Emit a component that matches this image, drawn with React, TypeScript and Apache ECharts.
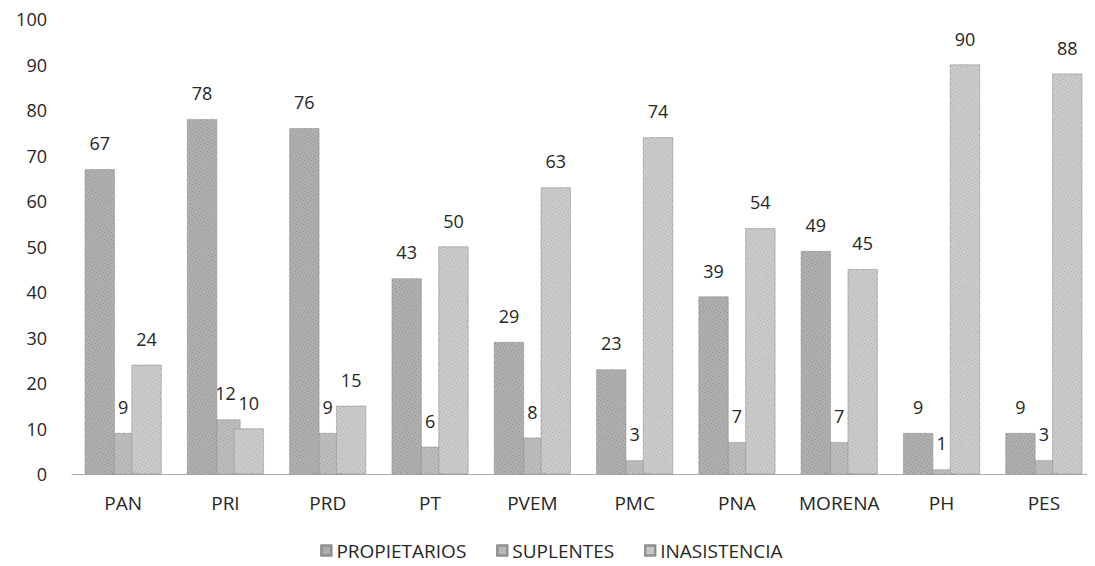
import React, { useEffect, useRef } from "react";
import * as echarts from "echarts";

const categories = ["PAN", "PRI", "PRD", "PT", "PVEM", "PMC", "PNA", "MORENA", "PH", "PES"];
const propietarios = [67, 78, 76, 43, 29, 23, 39, 49, 9, 9];
const suplentes = [9, 12, 9, 6, 8, 3, 7, 7, 1, 3];
const inasistencia = [24, 10, 15, 50, 63, 74, 54, 45, 90, 88];
const seriesNames = ["PROPIETARIOS", "SUPLENTES", "INASISTENCIA"];

const FONT = "Open Sans";
const TEXT = "#262626";

export default function App() {
  const ref = useRef<HTMLDivElement>(null);
  useEffect(() => {
    if (!ref.current) return;
    const chart = echarts.init(ref.current, undefined, { renderer: "svg" });
    const label = {
      show: true,
      position: "top",
      distance: 17,
      color: TEXT,
      fontSize: 18,
      fontFamily: FONT,
    };
    const mk = (name: string, data: number[], color: string, dot: string, z: number) => ({
      name,
      type: "bar",
      data,
      barWidth: 30,
      barGap: "-22%",
      z,
      itemStyle: {
        color,
        borderColor: "#8f8f8f",
        borderWidth: 0.6,
        borderType: "dotted",
        decal: {
          symbol: "rect",
          symbolSize: 1,
          dashArrayX: [1, 2],
          dashArrayY: [1, 2],
          rotation: 0.5,
          color: dot,
        },
      },
      label,
    });
    chart.setOption({
      animation: false,
      textStyle: { fontFamily: FONT },
      grid: { left: 64, top: 11, width: 1032, height: 455, containLabel: false },
      legend: {
        data: seriesNames,
        top: 528,
        left: "center",
        itemWidth: 10,
        itemHeight: 10,
        itemGap: 30,
        icon: "rect",
        textStyle: { fontSize: 19, color: TEXT, fontFamily: FONT },
      },
      xAxis: {
        type: "category",
        data: categories,
        axisLine: { show: true, lineStyle: { color: "#9a9a9a", width: 1, type: "dotted" } },
        axisTick: { show: false },
        axisLabel: { color: TEXT, fontSize: 19, fontFamily: FONT, margin: 19, interval: 0 },
      },
      yAxis: {
        type: "value",
        min: 0,
        max: 100,
        interval: 10,
        axisLine: { show: false },
        axisTick: { show: false },
        splitLine: { show: false },
        axisLabel: { color: TEXT, fontSize: 18, fontFamily: FONT, margin: 25 },
      },
      series: [
        mk(seriesNames[0], propietarios, "#b0b0b0", "rgba(60,60,60,0.35)", 3),
        mk(seriesNames[1], suplentes, "#bdbdbd", "rgba(70,70,70,0.3)", 2),
        mk(seriesNames[2], inasistencia, "#cbcbcb", "rgba(80,80,80,0.28)", 4),
      ],
    });
    return () => chart.dispose();
  }, []);
  return <div ref={ref} style={{ width: 1087, height: 558 }} />;
}
